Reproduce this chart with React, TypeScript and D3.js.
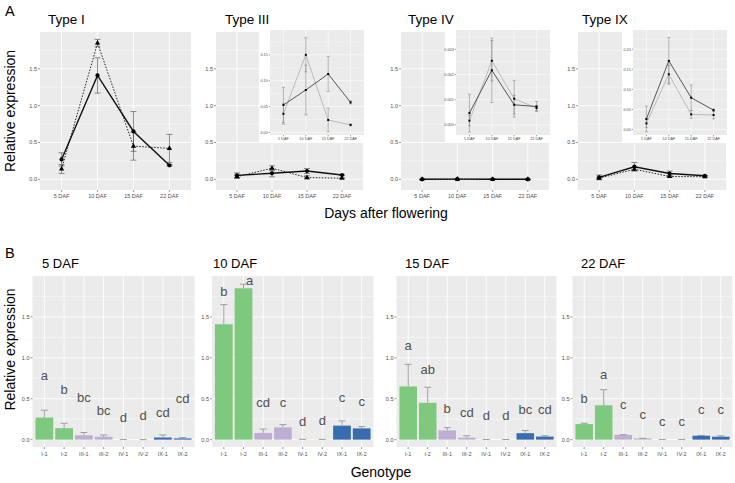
import React, { useEffect, useRef } from 'react';
import * as d3 from 'd3';

const W = 735;
const H = 483;
const FONT = 'Liberation Sans, Arial, sans-serif';

const DAF = ['5 DAF', '10 DAF', '15 DAF', '22 DAF'];
const GENOTYPES = ['I-1', 'I-2', 'III-1', 'III-2', 'IV-1', 'IV-2', 'IX-1', 'IX-2'];
const TYPES = ['I', 'III', 'IV', 'IX'];

// mean relative expression and standard error at 5, 10, 15, 22 DAF
const meanI1 = [0.27, 1.41, 0.65, 0.19];
const seI1 = [0.09, 0.24, 0.27, 0.01];
const meanI2 = [0.14, 1.85, 0.45, 0.42];
const seI2 = [0.06, 0.05, 0.19, 0.19];
const meanIII1 = [0.053, 0.082, 0.113, 0.058];
const seIII1 = [0.034, 0.048, 0.034, 0.003];
const meanIII2 = [0.036, 0.15, 0.024, 0.0145];
const seIII2 = [0.02, 0.033, 0.023, 0.002];
const meanIV1 = [0.00047, 0.00217, 0.0008, 0.00073];
const seIV1 = [0.00075, 0.00128, 0.00037, 0.0002];
const meanIV2 = [0.00017, 0.00255, 0.00104, 0.00067];
const seIV2 = [0.0002, 0.0008, 0.00073, 0.0001];
const meanIX1 = [0.026, 0.171, 0.079, 0.048];
const seIX1 = [0.032, 0.058, 0.032, 0.003];
const meanIX2 = [0.015, 0.1375, 0.0375, 0.036];
const seIX2 = [0.01, 0.022, 0.01, 0.01];

// significance letters per DAF and the height (data units) they sit at
const letters5 = ['a', 'b', 'bc', 'bc', 'd', 'd', 'cd', 'cd'];
const letterY5 = [0.79, 0.61, 0.51, 0.36, 0.27, 0.29, 0.33, 0.5];
const letters10 = ['b', 'a', 'cd', 'c', 'd', 'd', 'c', 'c'];
const letterY10 = [1.81, 1.94, 0.45, 0.45, 0.22, 0.23, 0.51, 0.47];
const letters15 = ['a', 'ab', 'b', 'cd', 'd', 'd', 'bc', 'cd'];
const letterY15 = [1.15, 0.86, 0.38, 0.33, 0.3, 0.3, 0.37, 0.37];
const letters22 = ['b', 'a', 'c', 'c', 'c', 'c', 'c', 'c'];
const letterY22 = [0.5, 0.8, 0.43, 0.31, 0.22, 0.22, 0.37, 0.37];

const mainTicks = [0, 0.5, 1.0, 1.5];
const mainMinor = [0.25, 0.75, 1.25, 1.75];
const insetTicksIII = [0, 0.05, 0.1, 0.15];
const insetTicksIV = [0, 0.001, 0.002, 0.003];
const insetTicksIX = [0, 0.05, 0.1, 0.15, 0.2];

const series: Record<string, { mean: number[]; se: number[] }> = {
  'I-1': { mean: meanI1, se: seI1 },
  'I-2': { mean: meanI2, se: seI2 },
  'III-1': { mean: meanIII1, se: seIII1 },
  'III-2': { mean: meanIII2, se: seIII2 },
  'IV-1': { mean: meanIV1, se: seIV1 },
  'IV-2': { mean: meanIV2, se: seIV2 },
  'IX-1': { mean: meanIX1, se: seIX1 },
  'IX-2': { mean: meanIX2, se: seIX2 },
};

const typeColor: Record<string, string> = {
  I: '#7FC97F',
  III: '#BEAED4',
  IV: '#FDC086',
  IX: '#386CB0',
};

const lettersByDaf = [letters5, letters10, letters15, letters22];
const letterYByDaf = [letterY5, letterY10, letterY15, letterY22];

// layout of the panels (pixels)
const aPanels = [
  { x0: 40, x1: 191 },
  { x0: 216, x1: 363 },
  { x0: 401, x1: 549 },
  { x0: 578, x1: 726 },
];
const aTitleX = [48, 225, 408, 582];
const A_TOP = 32;
const A_BOTTOM = 190;

const bPanels = [
  { x0: 32.5, x1: 194.5 },
  { x0: 212, x1: 373.5 },
  { x0: 396.5, x1: 556.5 },
  { x0: 572.5, x1: 732.5 },
];
const bTitleX = [42, 213, 405, 581];
const B_TOP = 276;
const B_BOTTOM = 447;

type Sel = d3.Selection<SVGGElement, unknown, null, undefined>;

function panelBg(
  g: Sel,
  xs: d3.ScalePoint<string>,
  ys: d3.ScaleLinear<number, number>,
  major: number[],
  minor: number[],
  x0: number, x1: number, y0: number, y1: number,
  lw: number
) {
  g.append('rect')
    .attr('x', x0).attr('y', y0)
    .attr('width', x1 - x0).attr('height', y1 - y0)
    .attr('fill', '#EBEBEB');
  minor.forEach(v => {
    g.append('line')
      .attr('x1', x0).attr('x2', x1)
      .attr('y1', ys(v)).attr('y2', ys(v))
      .attr('stroke', '#fff').attr('stroke-width', lw * 0.5);
  });
  major.forEach(v => {
    g.append('line')
      .attr('x1', x0).attr('x2', x1)
      .attr('y1', ys(v)).attr('y2', ys(v))
      .attr('stroke', '#fff').attr('stroke-width', lw);
  });
  xs.domain().forEach(d => {
    g.append('line')
      .attr('x1', xs(d)!).attr('x2', xs(d)!)
      .attr('y1', y0).attr('y2', y1)
      .attr('stroke', '#fff').attr('stroke-width', lw);
  });
}

function axes(
  g: Sel,
  xs: d3.ScalePoint<string>,
  ys: d3.ScaleLinear<number, number>,
  major: number[],
  fmt: (v: number) => string,
  x0: number, y1: number,
  size: number, tick: number, xLabelDy: number
) {
  major.forEach(v => {
    g.append('line')
      .attr('x1', x0 - tick).attr('x2', x0)
      .attr('y1', ys(v)).attr('y2', ys(v))
      .attr('stroke', '#333').attr('stroke-width', 0.5);
    g.append('text')
      .attr('x', x0 - tick - 1).attr('y', ys(v))
      .attr('dy', '0.35em')
      .attr('text-anchor', 'end')
      .attr('font-size', size)
      .attr('fill', '#4D4D4D')
      .text(fmt(v));
  });
  xs.domain().forEach(d => {
    g.append('line')
      .attr('x1', xs(d)!).attr('x2', xs(d)!)
      .attr('y1', y1).attr('y2', y1 + tick)
      .attr('stroke', '#333').attr('stroke-width', 0.5);
    g.append('text')
      .attr('x', xs(d)!).attr('y', y1 + xLabelDy)
      .attr('text-anchor', 'middle')
      .attr('font-size', size)
      .attr('fill', '#4D4D4D')
      .text(d);
  });
}

function drawLines(
  g: Sel,
  xs: d3.ScalePoint<string>,
  ys: d3.ScaleLinear<number, number>,
  type: string,
  inset: boolean
) {
  const idx = d3.range(DAF.length);
  const line = (m: number[]) =>
    d3.line<number>().x(i => xs(DAF[i])!).y(i => ys(m[i]))(idx);
  const s1 = series[`${type}-1`];
  const s2 = series[`${type}-2`];
  const cap = inset ? 1.5 : 3;

  [s1, s2].forEach(s => {
    idx.forEach(i => {
      const x = xs(DAF[i])!;
      const lo = ys(s.mean[i] - s.se[i]);
      const hi = ys(s.mean[i] + s.se[i]);
      const col = inset ? '#888' : '#444';
      g.append('line').attr('x1', x).attr('x2', x).attr('y1', lo).attr('y2', hi)
        .attr('stroke', col).attr('stroke-width', 0.6);
      [lo, hi].forEach(y => {
        g.append('line').attr('x1', x - cap).attr('x2', x + cap).attr('y1', y).attr('y2', y)
          .attr('stroke', col).attr('stroke-width', 0.6);
      });
    });
  });

  g.append('path').attr('d', line(s2.mean)!)
    .attr('fill', 'none')
    .attr('stroke', inset ? '#999' : '#222')
    .attr('stroke-width', inset ? 0.6 : 1)
    .attr('stroke-dasharray', inset ? null : '1.5,1.5');
  g.append('path').attr('d', line(s1.mean)!)
    .attr('fill', 'none')
    .attr('stroke', inset ? '#444' : '#111')
    .attr('stroke-width', inset ? 0.9 : 1.4);

  const sym1 = d3.symbol().type(inset ? d3.symbolSquare : d3.symbolCircle).size(inset ? 4 : 14);
  const sym2 = d3.symbol().type(inset ? d3.symbolSquare : d3.symbolTriangle).size(inset ? 4 : 12);
  idx.forEach(i => {
    const x = xs(DAF[i])!;
    g.append('path').attr('d', sym2()!)
      .attr('transform', `translate(${x},${ys(s2.mean[i])})`).attr('fill', '#000');
    g.append('path').attr('d', sym1()!)
      .attr('transform', `translate(${x},${ys(s1.mean[i])})`).attr('fill', '#000');
  });
}

const App: React.FC = () => {
  const svgRef = useRef<SVGSVGElement>(null);

  useEffect(() => {
    if (!svgRef.current) return;
    const svg = d3.select(svgRef.current);
    svg.selectAll('*').remove();
    const root = svg.append('g').attr('font-family', FONT) as unknown as Sel;

    root.append('rect').attr('width', W).attr('height', H).attr('fill', '#fff');

    // ---- Panel A: line charts ----
    const yA = d3.scaleLinear().domain([-0.145, 2.0]).range([A_BOTTOM, A_TOP]);
    const insetDomains: Record<string, [number, number]> = {
      III: [-0.005, 0.198],
      IV: [-0.0004, 0.00377],
      IX: [-0.014, 0.248],
    };
    const insetTicks: Record<string, number[]> = {
      III: insetTicksIII,
      IV: insetTicksIV,
      IX: insetTicksIX,
    };
    const insetFmt: Record<string, (v: number) => string> = {
      III: d3.format('.2f'),
      IV: d3.format('.3f'),
      IX: d3.format('.2f'),
    };

    TYPES.forEach((type, k) => {
      const p = aPanels[k];
      const g = root.append('g') as unknown as Sel;
      const xs = d3.scalePoint<string>().domain(DAF).range([p.x0, p.x1]).padding(0.6);
      panelBg(g, xs, yA, mainTicks, mainMinor, p.x0, p.x1, A_TOP, A_BOTTOM, 0.9);
      axes(g, xs, yA, mainTicks, d3.format('.1f'), p.x0, A_BOTTOM, 5.5, 2, 7.5);
      drawLines(g, xs, yA, type, false);

      g.append('text')
        .attr('x', aTitleX[k]).attr('y', 23.5)
        .attr('font-size', 13.5).attr('fill', '#000')
        .text(`Type ${type}`);

      if (type !== 'I') {
        const gx1 = p.x1 + 1;
        const gx0 = p.x1 - 93;
        const gy0 = 30;
        const gy1 = 135;
        g.append('rect')
          .attr('x', p.x1 - 104).attr('y', 28)
          .attr('width', 106).attr('height', 115)
          .attr('fill', '#fff');
        const xi = d3.scalePoint<string>().domain(DAF).range([gx0, gx1]).padding(0.6);
        const yi = d3.scaleLinear().domain(insetDomains[type]).range([gy1, gy0]);
        const ticks = insetTicks[type];
        const minor = ticks.map(t => t + (ticks[1] - ticks[0]) / 2)
          .filter(t => t < insetDomains[type][1]);
        panelBg(g, xi, yi, ticks, minor, gx0, gx1, gy0, gy1, 0.6);
        axes(g, xi, yi, ticks, insetFmt[type], gx0, gy1, 3.8, 1.2, 5);
        drawLines(g, xi, yi, type, true);
      }
    });

    root.append('text')
      .attr('x', 5).attr('y', 16)
      .attr('font-size', 14.5).text('A');
    root.append('text')
      .attr('transform', `translate(15,${(A_TOP + A_BOTTOM) / 2}) rotate(-90)`)
      .attr('text-anchor', 'middle')
      .attr('font-size', 14).text('Relative expression');
    root.append('text')
      .attr('x', 386).attr('y', 218)
      .attr('text-anchor', 'middle')
      .attr('font-size', 14).text('Days after flowering');

    // ---- Panel B: bar charts ----
    const yB = d3.scaleLinear().domain([-0.09, 2.0]).range([B_BOTTOM, B_TOP]);
    DAF.forEach((daf, k) => {
      const p = bPanels[k];
      const g = root.append('g') as unknown as Sel;
      const xs = d3.scalePoint<string>().domain(GENOTYPES).range([p.x0, p.x1]).padding(0.6);
      const step = xs.step();
      panelBg(g, xs, yB, mainTicks, mainMinor, p.x0, p.x1, B_TOP, B_BOTTOM, 0.9);
      axes(g, xs, yB, mainTicks, d3.format('.1f'), p.x0, B_BOTTOM, 5.5, 2, 8.5);

      GENOTYPES.forEach((gt, i) => {
        const m = series[gt].mean[k];
        const s = series[gt].se[k];
        const x = xs(gt)!;
        const type = gt.split('-')[0];
        g.append('rect')
          .attr('x', x - 0.45 * step)
          .attr('width', 0.9 * step)
          .attr('y', yB(m))
          .attr('height', yB(0) - yB(m))
          .attr('fill', typeColor[type]);
        g.append('line')
          .attr('x1', x).attr('x2', x)
          .attr('y1', yB(m)).attr('y2', yB(m + s))
          .attr('stroke', '#8a8a8a').attr('stroke-width', 0.8);
        g.append('line')
          .attr('x1', x - 3.5).attr('x2', x + 3.5)
          .attr('y1', yB(m + s)).attr('y2', yB(m + s))
          .attr('stroke', '#8a8a8a').attr('stroke-width', 0.8);
        // the top letter of 10 DAF sits just right of its error bar cap
        const nudge = k === 1 && i === 1 ? 6 : 0;
        g.append('text')
          .attr('x', x + nudge).attr('y', yB(letterYByDaf[k][i]))
          .attr('dy', '0.35em')
          .attr('text-anchor', 'middle')
          .attr('font-size', 13)
          .attr('fill', '#505050')
          .text(lettersByDaf[k][i]);
      });

      g.append('text')
        .attr('x', bTitleX[k]).attr('y', 267.5)
        .attr('font-size', 13).attr('fill', '#000')
        .text(daf);
    });

    root.append('text')
      .attr('x', 5).attr('y', 258)
      .attr('font-size', 14.5).text('B');
    root.append('text')
      .attr('transform', `translate(15,${(B_TOP + B_BOTTOM) / 2 - 12}) rotate(-90)`)
      .attr('text-anchor', 'middle')
      .attr('font-size', 14).text('Relative expression');
    root.append('text')
      .attr('x', 381).attr('y', 477)
      .attr('text-anchor', 'middle')
      .attr('font-size', 14).text('Genotype');
  }, []);

  return (
    <div style={{ position: 'absolute', left: 0, top: 0 }}>
      <svg ref={svgRef} width={W} height={H} style={{ display: 'block' }} />
    </div>
  );
};

export default App;
